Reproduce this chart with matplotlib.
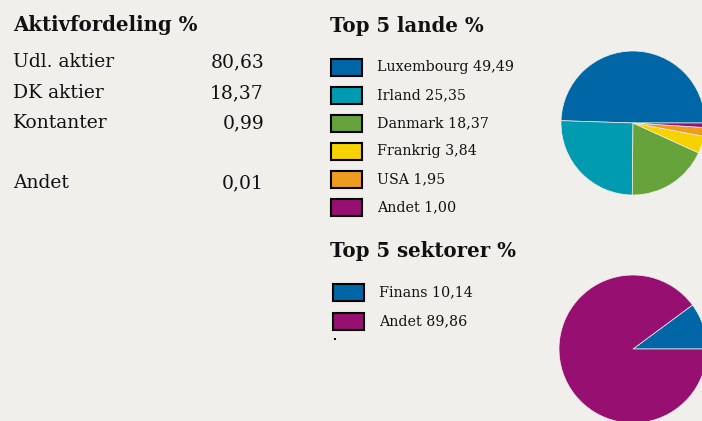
import matplotlib.pyplot as plt
from matplotlib.patches import Rectangle
from matplotlib.transforms import Affine2D

# asset allocation table
aktiv_labels = ["Udl. aktier", "DK aktier", "Kontanter", "Andet"]
aktiv_values = [80.63, 18.37, 0.99, 0.01]

# countries
lande_labels = ["Luxembourg", "Irland", "Danmark", "Frankrig", "USA", "Andet"]
lande_values = [49.49, 25.35, 18.37, 3.84, 1.95, 1.00]
lande_colors = ["#0066a6", "#009bb0", "#66a33a", "#f5d200", "#ee9c1f", "#960f71"]

# sectors
sektor_labels = ["Finans", "Andet"]
sektor_values = [10.14, 89.86]
sektor_colors = ["#0066a6", "#960f71"]

W, H = 702, 421
BG = "#f0efeb"
plt.rcParams["font.family"] = ["DejaVu Serif"]

fig = plt.figure(figsize=(W / 100, H / 100), dpi=100, facecolor=BG)
# pixel coordinates, origin top left
px = Affine2D().scale(1 / W, -1 / H).translate(0, 1) + fig.transFigure


def fmt(v):
    return f"{v:.2f}".replace(".", ",")


# left table
fig.text(13, 31, "Aktivfordeling %", transform=px, fontsize=14.2,
         fontweight="bold", color="#111111")
rows_y = [67, 98, 128, 188]
for lab, val, y in zip(aktiv_labels, aktiv_values, rows_y):
    fig.text(13, y, lab, transform=px, fontsize=13.5, color="#111111")
    fig.text(264, y, fmt(val), transform=px, fontsize=13.5, color="#111111",
             ha="right")


def legend(title, title_y, box_x, text_x, y0, step, labels, values, colors):
    fig.text(330, title_y, title, transform=px, fontsize=14.2,
             fontweight="bold", color="#111111")
    for i, (lab, val, col) in enumerate(zip(labels, values, colors)):
        cy = y0 + i * step
        fig.add_artist(Rectangle((box_x, cy - 8.5), 31, 17, transform=px,
                                 facecolor=col, edgecolor="black", lw=1.5))
        fig.text(text_x, cy, f"{lab} {fmt(val)}", transform=px, fontsize=10.3,
                 color="#111111", va="center")


legend("Top 5 lande %", 32, 331, 377, 67, 28, lande_labels, lande_values,
       lande_colors)
legend("Top 5 sektorer %", 257, 333, 379, 292.5, 28.5, sektor_labels,
       sektor_values, sektor_colors)
fig.add_artist(Rectangle((333.5, 338), 2, 2, transform=px,
                         facecolor="black", lw=0))


def pie(cx, cy, r, values, colors):
    ax = fig.add_axes([(cx - r) / W, 1 - (cy + r) / H, 2 * r / W, 2 * r / H])
    ax.pie(values, colors=colors, startangle=0, counterclock=True,
           wedgeprops=dict(linewidth=0.5, edgecolor=BG))
    ax.set_xlim(-1, 1)
    ax.set_ylim(-1, 1)
    ax.axis("off")


pie(633, 123, 72, lande_values, lande_colors)
pie(633, 349, 74, sektor_values, sektor_colors)

fig.savefig("out.png", dpi=100, facecolor=BG)
